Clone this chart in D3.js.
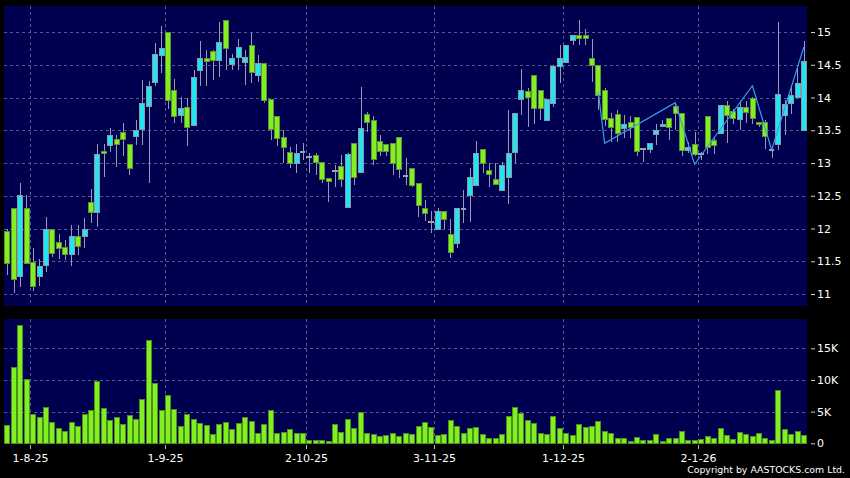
<!DOCTYPE html>
<html>
<head>
<meta charset="utf-8">
<script src="https://cdn.jsdelivr.net/npm/d3@7"></script>
<style>
body { margin: 0; background: #000; }
svg { display: block; }
text { font-family: "DejaVu Sans", sans-serif; fill: #fff; }
</style>
</head>
<body>
<script>
// daily OHLC, 29 Jul 2025 .. 26 Jan 2026 (one entry per trading day)
var opens = [11.96,12.31,11.28,12.31,11.49,11.27,11.44,11.99,11.80,11.71,
    11.61,11.88,11.88,12.41,12.26,13.19,13.27,13.36,13.47,13.29,
    13.42,13.52,13.87,14.24,14.66,15.00,14.12,13.73,13.86,13.59,
    14.42,14.61,14.71,14.57,15.19,14.52,14.61,14.55,14.80,14.34,
    14.53,13.97,13.72,13.39,13.17,13.00,13.19,13.11,13.12,13.02,
    12.77,12.89,12.95,12.32,13.30,12.87,13.75,13.65,13.33,13.29,
    13.30,13.39,12.82,12.92,12.70,12.32,12.12,11.99,12.27,11.91,
    11.77,12.31,12.51,12.66,13.21,12.90,12.76,12.59,12.80,13.16,
    13.98,14.10,14.34,14.11,13.66,13.91,14.48,14.54,14.88,14.95,
    14.96,14.61,14.50,14.11,13.68,13.75,13.54,13.63,13.70,13.23,
    13.21,13.45,13.57,13.68,13.87,13.76,13.20,13.29,13.15,13.71,
    13.35,13.46,13.89,13.80,13.68,13.86,13.99,13.63,13.62,13.22,
    13.30,13.73,13.92,14.01,13.51];
var highs = [12.00,12.31,12.70,12.51,11.70,11.54,12.17,11.99,11.92,11.82,
    12.05,12.05,12.16,12.61,13.29,13.29,13.53,13.43,13.61,13.29,
    13.66,14.27,14.25,14.83,15.09,15.00,14.29,14.01,13.99,14.42,
    14.87,14.73,14.73,15.16,15.19,14.67,14.90,14.72,14.98,14.65,
    14.53,13.97,13.72,13.50,13.25,13.29,13.31,13.15,13.15,13.02,
    12.77,12.97,13.12,13.16,13.30,14.16,13.78,13.72,13.43,13.29,
    13.30,13.39,13.07,12.92,12.70,12.44,12.26,12.31,12.27,12.14,
    12.31,12.59,12.92,13.34,13.21,13.00,13.00,13.02,13.81,13.76,
    14.43,14.14,14.34,14.11,13.98,14.50,14.80,14.80,14.95,15.19,
    15.05,14.90,14.50,14.15,13.76,13.81,13.74,13.72,13.70,13.23,
    13.30,13.59,13.66,13.68,13.91,13.76,13.32,13.48,13.17,13.71,
    13.40,13.88,13.94,13.83,13.94,13.94,14.01,13.63,13.66,13.22,
    15.15,13.96,14.19,14.46,14.86];
var lows = [11.29,11.02,11.10,11.47,11.04,11.12,11.34,11.57,11.54,11.52,
    11.42,11.60,11.70,12.08,12.03,12.79,13.17,12.94,13.10,12.82,
    13.27,13.27,12.70,14.17,14.38,13.83,13.61,13.61,13.26,13.59,
    14.17,14.17,14.27,14.32,14.42,14.42,14.42,14.19,14.22,14.24,
    13.91,13.35,13.26,13.00,12.92,12.85,13.05,12.84,12.82,12.69,
    12.41,12.64,12.64,12.32,12.66,12.87,13.48,12.97,13.10,13.10,
    12.82,12.77,12.66,12.64,12.17,12.12,11.93,11.99,11.99,11.55,
    11.70,12.09,12.10,12.66,12.85,12.63,12.66,12.59,12.38,13.00,
    13.73,13.55,13.59,13.66,13.66,13.85,14.22,14.54,14.80,14.80,
    14.80,14.23,13.81,13.56,13.32,13.32,13.38,13.38,13.10,13.01,
    13.16,13.28,13.55,13.35,13.51,13.10,13.16,13.10,13.04,13.14,
    13.14,13.46,13.30,13.60,13.50,13.61,13.60,13.55,13.22,13.08,
    13.20,13.43,13.75,14.01,13.51];
var closes = [11.47,11.22,12.51,11.47,11.12,11.42,11.99,11.62,11.71,11.61,
    11.88,11.72,11.99,12.26,13.14,13.16,13.42,13.29,13.36,12.93,
    13.51,13.91,14.18,14.67,14.76,13.96,13.73,13.84,13.56,14.32,
    14.61,14.56,14.57,14.84,14.77,14.61,14.77,14.62,14.39,14.53,
    13.96,13.51,13.39,13.24,13.00,13.16,13.19,13.11,13.02,12.76,
    12.72,12.89,12.75,13.13,12.78,13.54,13.63,13.06,13.17,13.18,
    13.00,12.90,12.82,12.66,12.36,12.25,12.12,12.26,12.15,11.64,
    12.31,12.31,12.79,13.15,13.00,12.84,12.69,12.97,13.16,13.76,
    14.11,14.01,13.83,13.83,13.98,14.48,14.60,14.80,14.95,14.91,
    14.91,14.51,14.04,13.66,13.55,13.46,13.60,13.55,13.18,13.23,
    13.30,13.51,13.60,13.54,13.76,13.20,13.24,13.14,13.15,13.23,
    13.27,13.88,13.73,13.70,13.86,13.78,13.68,13.60,13.41,13.22,
    14.06,13.90,14.04,14.22,14.56];
// volume in thousands
var volumes = [2.9,12.1,18.7,10.2,4.7,4.2,5.8,3.3,2.4,1.9,
    3.3,2.7,4.7,5.3,9.9,5.5,3.7,4.1,3.1,4.5,
    3.9,7.0,16.3,9.5,5.3,7.7,5.4,2.7,4.6,3.8,
    3.2,2.9,1.5,3.1,3.3,2.2,3.2,4.1,3.6,1.6,
    3.1,5.3,1.7,1.8,2.2,1.6,1.7,0.5,0.5,0.5,
    0.3,3.0,1.8,3.8,2.4,5.0,1.7,1.4,1.2,1.3,
    1.7,1.2,1.6,1.5,2.7,3.3,2.6,1.3,1.5,3.7,
    2.8,1.6,2.4,2.5,1.5,0.8,0.8,1.5,4.3,5.7,
    4.8,3.7,3.2,1.6,1.5,4.3,2.4,1.6,1.3,3.0,
    2.6,2.8,3.6,1.9,1.7,0.8,0.8,0.4,1.0,0.5,
    0.5,1.4,0.3,0.8,0.9,1.9,0.6,0.6,0.7,1.1,
    0.9,2.4,1.3,0.7,1.8,1.5,1.2,1.7,0.8,0.5,
    8.4,2.3,1.5,1.9,1.3];

// date axis
var dateTickIdx = [3, 24, 46, 66, 86, 107];
var dateTickLabels = ["1-8-25", "1-9-25", "2-10-25", "3-11-25", "1-12-25", "2-1-26"];

// zigzag overlay (bar index, price)
var zigIdx = [92, 93, 104, 107, 116, 119, 124];
var zigVal = [14.09, 13.30, 13.92, 12.98, 14.18, 13.20, 14.77];

var priceTicks = [11, 11.5, 12, 12.5, 13, 13.5, 14, 14.5, 15];
var volTicks = [0, 5, 10, 15];

var width = 850,
    height = 478;
var plotL = 4, plotR = 807;
var pTop = 6, pBot = 306, vTop = 319, vBot = 444;
var n = closes.length;

var svg = d3.select("body").append("svg")
    .attr("width", width)
    .attr("height", height);

svg.append("rect").attr("width", width).attr("height", height).attr("fill", "#000");

var x = d3.scaleBand()
    .domain(d3.range(n))
    .range([plotL, plotR])
    .paddingInner(0.14)
    .paddingOuter(0.07);
var bw = x.bandwidth();
var cx = function(i) { return x(i) + bw / 2; };
// gridline sits in the gap right after the bar
var gx = function(i) { return Math.round(x(i) + bw + (x.step() - bw) / 2) + 0.5; };

var y = d3.scaleLinear().domain([11, 15]).range([294, 32]);
var yv = d3.scaleLinear().domain([0, 15]).range([443.3, 348.3]);

var navy = "#000050";
var gridColor = "#585890";

// panels
svg.append("rect").attr("x", plotL).attr("y", pTop)
    .attr("width", plotR - plotL).attr("height", pBot - pTop).attr("fill", navy);
svg.append("rect").attr("x", plotL).attr("y", vTop)
    .attr("width", plotR - plotL).attr("height", vBot - vTop).attr("fill", navy);

// price grid
var grid = svg.append("g")
    .attr("stroke", gridColor)
    .attr("stroke-dasharray", "3,3")
    .attr("shape-rendering", "crispEdges");
grid.selectAll(".hp").data(priceTicks).enter().append("line")
    .attr("x1", plotL).attr("x2", plotR)
    .attr("y1", function(d) { return Math.round(y(d)) + 0.5; })
    .attr("y2", function(d) { return Math.round(y(d)) + 0.5; });
grid.selectAll(".hv").data(volTicks.slice(1)).enter().append("line")
    .attr("x1", plotL).attr("x2", plotR)
    .attr("y1", function(d) { return Math.round(yv(d)) + 0.5; })
    .attr("y2", function(d) { return Math.round(yv(d)) + 0.5; });
grid.selectAll(".vp").data(dateTickIdx).enter().append("line")
    .attr("x1", gx).attr("x2", gx)
    .attr("y1", pTop).attr("y2", pBot);
grid.selectAll(".vv").data(dateTickIdx).enter().append("line")
    .attr("x1", gx).attr("x2", gx)
    .attr("y1", vTop).attr("y2", vBot);

// candles
var idx = d3.range(n);
var candles = svg.append("g").attr("shape-rendering", "crispEdges");

candles.selectAll(".wick").data(idx).enter().append("line")
    .attr("class", "wick")
    .attr("x1", function(i) { return Math.round(cx(i)) + 0.5; })
    .attr("x2", function(i) { return Math.round(cx(i)) + 0.5; })
    .attr("y1", function(i) { return y(highs[i]); })
    .attr("y2", function(i) { return y(lows[i]); })
    .attr("stroke", "#9a9aae");

candles.selectAll(".body").data(idx.filter(function(i) { return opens[i] !== closes[i]; }))
    .enter().append("rect")
    .attr("class", "body")
    .attr("x", function(i) { return Math.round(x(i)) + 0.5; })
    .attr("width", Math.round(bw) - 1)
    .attr("y", function(i) { return Math.round(y(Math.max(opens[i], closes[i]))) + 0.5; })
    .attr("height", function(i) {
        return Math.max(1, Math.round(Math.abs(y(opens[i]) - y(closes[i]))));
    })
    .attr("fill", function(i) { return closes[i] > opens[i] ? "#24e4f2" : "#82f020"; })
    .attr("stroke", function(i) { return closes[i] > opens[i] ? "#8a9aa6" : "#5e9236"; });

candles.selectAll(".doji").data(idx.filter(function(i) { return opens[i] === closes[i]; }))
    .enter().append("line")
    .attr("class", "doji")
    .attr("x1", function(i) { return Math.round(x(i)); })
    .attr("x2", function(i) { return Math.round(x(i) + bw); })
    .attr("y1", function(i) { return Math.round(y(closes[i])) + 0.5; })
    .attr("y2", function(i) { return Math.round(y(closes[i])) + 0.5; })
    .attr("stroke", "#a0a0b0")
    .attr("stroke-width", 2);

// zigzag
var zz = d3.line()
    .x(function(d) { return cx(d); })
    .y(function(d, k) { return y(zigVal[k]); });
svg.append("path")
    .attr("d", zz(zigIdx))
    .attr("fill", "none")
    .attr("stroke", "#3a9ee8")
    .attr("stroke-width", 1.2);

// volume bars
svg.append("g").attr("shape-rendering", "crispEdges")
    .selectAll("rect").data(idx).enter().append("rect")
    .attr("x", function(i) { return Math.round(x(i)) + 0.5; })
    .attr("width", Math.round(bw) - 1)
    .attr("y", function(i) { return Math.round(yv(volumes[i])) + 0.5; })
    .attr("height", function(i) { return Math.max(0, Math.round(yv(0)) - Math.round(yv(volumes[i]))); })
    .attr("fill", "#80f020")
    .attr("stroke", "#4e8e1e");

// right axes
var yAxis = d3.axisRight(y)
    .tickValues(priceTicks)
    .tickSize(4)
    .tickPadding(2)
    .tickFormat(d3.format("~g"));
var yAx = svg.append("g")
    .attr("transform", "translate(811,0)")
    .call(yAxis);

var vAxis = d3.axisRight(yv)
    .tickValues(volTicks)
    .tickSize(4)
    .tickPadding(2)
    .tickFormat(function(d) { return d === 0 ? "0" : d + "K"; });
var vAx = svg.append("g")
    .attr("transform", "translate(811,0)")
    .call(vAxis);

// date axis
var xAx = svg.append("g").attr("transform", "translate(0," + vBot + ")");
xAx.selectAll("line").data(dateTickIdx).enter().append("line")
    .attr("x1", gx).attr("x2", gx)
    .attr("y1", 1).attr("y2", 5)
    .attr("stroke", "#bbb");
xAx.selectAll("text").data(dateTickIdx).enter().append("text")
    .attr("x", gx)
    .attr("y", 17.5)
    .attr("text-anchor", "middle")
    .text(function(d, k) { return dateTickLabels[k]; });

[yAx, vAx, xAx].forEach(function(g) {
    g.select(".domain").remove();
    g.selectAll(".tick line").attr("stroke", "#ccc");
    g.selectAll("text")
        .attr("fill", "#fff")
        .style("font-size", "11px")
        .style("font-family", "'DejaVu Sans', sans-serif");
});

svg.append("text")
    .attr("x", 845)
    .attr("y", 473)
    .attr("text-anchor", "end")
    .style("font-size", "9.4px")
    .text("Copyright by AASTOCKS.com Ltd.");
</script>
</body>
</html>
